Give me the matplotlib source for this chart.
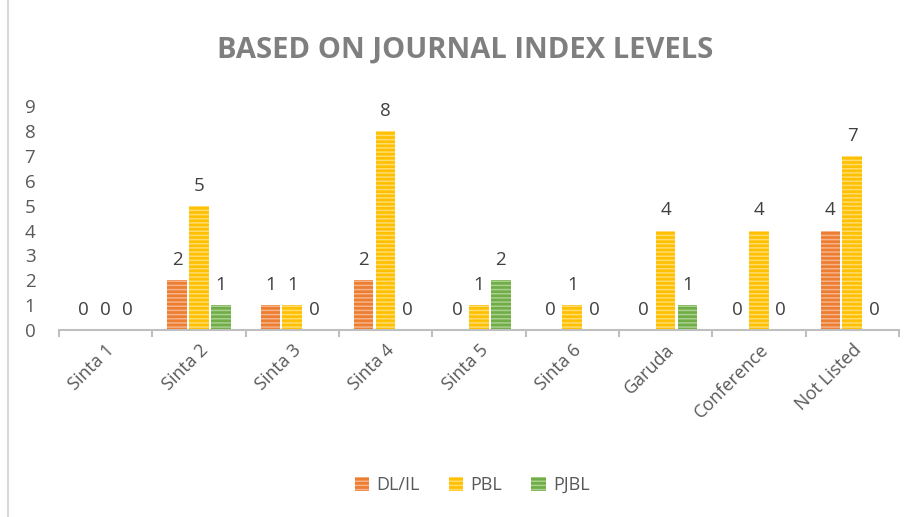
import matplotlib.pyplot as plt
import numpy as np
from matplotlib.patches import Patch
from matplotlib.lines import Line2D

categories = ['Sinta 1', 'Sinta 2', 'Sinta 3', 'Sinta 4', 'Sinta 5', 'Sinta 6',
              'Garuda', 'Conference', 'Not Listed']
dl_il = [0, 2, 1, 2, 0, 0, 0, 0, 4]
pbl = [0, 5, 1, 8, 1, 1, 4, 4, 7]
pjbl = [0, 1, 0, 0, 2, 0, 1, 0, 0]
series_names = ['DL/IL', 'PBL', 'PJBL']
y_ticks = list(range(0, 10))

plt.rcParams['font.family'] = ['Open Sans', 'DejaVu Sans']
plt.rcParams['hatch.linewidth'] = 1.1

fills = ['#ED7D31', '#FFC000', '#70AD47']
stripes = ['#F6B48A', '#FFDB70', '#A9D08E']

fig = plt.figure(figsize=(9.17, 5.17), dpi=100)
ax = fig.add_axes([0.0643, 0.3617, 0.916, 0.433])

x = np.arange(len(categories))
w = 0.21
off = 0.235
for i, vals in enumerate([dl_il, pbl, pjbl]):
    bars = ax.bar(x + (i - 1) * off, vals, w, color=fills[i], edgecolor=stripes[i],
                  linewidth=0, hatch='----')
    ax.bar_label(bars, padding=8, fontsize=13.5, color='#404040')

ax.set_xlim(-0.5, len(categories) - 0.5)
ax.set_ylim(0, 9)
ax.set_yticks(y_ticks)
ax.tick_params(axis='y', length=0, labelsize=13.5, labelcolor='#595959', pad=17)
ax.set_xticks(x)
ax.set_xticklabels(categories, rotation=45, ha='right', rotation_mode='anchor')
ax.tick_params(axis='x', which='major', length=0, labelsize=13,
               labelcolor='#595959', pad=8)
ax.set_xticks(np.arange(-0.5, len(categories)), minor=True)
ax.tick_params(axis='x', which='minor', length=5, width=1.5, color='#BFBFBF')
for s in ['top', 'right', 'left']:
    ax.spines[s].set_visible(False)
ax.spines['bottom'].set_color('#BFBFBF')
ax.spines['bottom'].set_linewidth(1.5)

fig.text(0.507, 0.903, 'BASED ON JOURNAL INDEX LEVELS', ha='center', va='center',
         fontsize=21, fontweight='bold', color='#7F7F7F')

handles = [Patch(facecolor=fills[i], edgecolor=stripes[i], linewidth=0, hatch='----',
                 label=series_names[i]) for i in range(3)]
fig.legend(handles=handles, loc='center', bbox_to_anchor=(0.515, 0.062), ncol=3,
           frameon=False, fontsize=13, handlelength=0.8, handleheight=0.8,
           handletextpad=0.4, columnspacing=1.6, labelcolor='#595959')

fig.add_artist(Line2D([8 / 917, 8 / 917], [0, 1], color='#D9D9D9', linewidth=1.5))

fig.savefig('out.png', dpi=100)
